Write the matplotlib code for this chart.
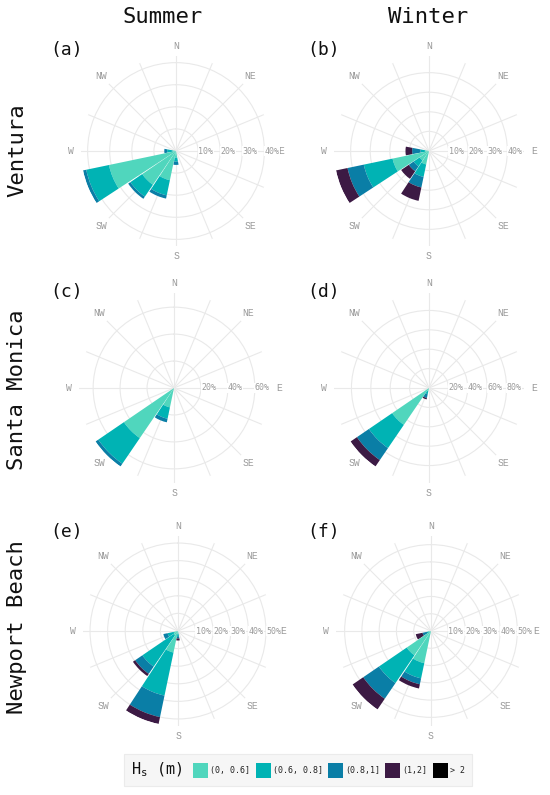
import matplotlib
matplotlib.use('Agg')
import matplotlib.pyplot as plt
import numpy as np
from matplotlib.patches import Rectangle

# ---------------- data ----------------
DIRS = ['N', 'NNE', 'NE', 'ENE', 'E', 'ESE', 'SE', 'SSE',
        'S', 'SSW', 'SW', 'WSW', 'W', 'WNW', 'NW', 'NNW']
COMPASS = ['N', 'NE', 'E', 'SE', 'S', 'SW', 'W', 'NW']
BINS = ['(0, 0.6]', '(0.6, 0.8]', '(0.8,1]', '(1,2]', '> 2']
COLORS = ['#50d6bd', '#00b3b4', '#0a7ea6', '#3c1a44', '#000000']
SEASONS = ['Summer', 'Winter']
SITES = ['Ventura', 'Santa Monica', 'Newport Beach']
TAGS = ['(a)', '(b)', '(c)', '(d)', '(e)', '(f)']

# percent of time per direction, one value per Hs bin
ventura_summer = {'W': [1.5, 2.5, 1.3, 0, 0], 'WSW': [31, 10.5, 1.5, 0, 0],
                  'SW': [18.5, 6.5, 1.2, 0, 0], 'SSW': [13.5, 7, 1.5, 0, 0],
                  'S': [3, 1.8, 1.5, 0, 0]}
ventura_winter = {'W': [2, 2.3, 4.3, 3.4, 0], 'WSW': [19, 15, 8.5, 6, 0],
                  'SW': [5.8, 3.7, 3, 4.7, 0], 'SSW': [7, 6.5, 5.5, 7, 0]}
smonica_summer = {'SW': [45, 23, 2.5, 0, 0], 'SSW': [14.7, 8.6, 2.7, 0, 0]}
smonica_winter = {'SW': [46, 29, 15, 8, 0], 'SSW': [3.5, 3, 4, 1.5, 0]}
newport_summer = {'WSW': [2.5, 3.5, 2.5, 0, 0], 'SW': [3, 21.5, 5, 1.5, 0],
                  'SSW': [12.5, 25, 12.5, 4, 0], 'S': [1.5, 1.5, 1.2, 1.2, 0]}
newport_winter = {'WSW': [1.2, 1.3, 2.5, 4, 0], 'SW': [17, 19.5, 11, 7.5, 0],
                  'SSW': [19, 9, 3.5, 2.5, 0]}

PANELS = [ventura_summer, ventura_winter, smonica_summer,
          smonica_winter, newport_summer, newport_winter]
RTICKS = [[10, 20, 30, 40], [10, 20, 30, 40], [20, 40, 60],
          [20, 40, 60, 80], [10, 20, 30, 40, 50], [10, 20, 30, 40, 50]]

# ---------------- layout (pixels) ----------------
W, H = 550, 795
R = 95
CENTERS = [(176, 151), (429, 151), (174, 388), (429, 388), (178, 631), (431, 631)]
TAG_POS = [(67, 50), (324, 50), (67, 292), (324, 292), (67, 532), (324, 532)]
MONO = 'DejaVu Sans Mono'
GRID = '#e9e9e9'
LABEL_GREY = '#9a9a9a'


def fx(x):
    return x / W


def fy(y):
    return 1 - y / H


fig = plt.figure(figsize=(W / 100, H / 100), dpi=100)
fig.patch.set_facecolor('white')

for i, data in enumerate(PANELS):
    cx, cy = CENTERS[i]
    ax = fig.add_axes([fx(cx - R), fy(cy + R), 2 * R / W, 2 * R / H], projection='polar')
    ax.set_theta_zero_location('N')
    ax.set_theta_direction(-1)
    totals = [sum(v) for v in data.values()]
    rmax = max(totals)
    ax.set_ylim(0, rmax)
    ax.set_xticks(np.deg2rad(np.arange(16) * 22.5))
    ax.set_xticklabels([])
    ax.set_yticks(RTICKS[i])
    ax.set_yticklabels([])
    ax.tick_params(length=0)
    ax.grid(True, color=GRID, lw=0.8)
    ax.spines['polar'].set_visible(False)
    ax.set_axisbelow(True)
    ax.patch.set_alpha(0)

    for d, vals in data.items():
        th = np.deg2rad(DIRS.index(d) * 22.5)
        bottom = 0
        for k, v in enumerate(vals):
            if v > 0:
                ax.bar(th, v, width=np.deg2rad(21.4), bottom=bottom,
                       color=COLORS[k], edgecolor='none', linewidth=0, zorder=3)
            bottom += v

    for j, name in enumerate(COMPASS):
        ax.text(np.deg2rad(j * 45), rmax * 1.11, name, ha='center', va='center',
                fontsize=7, color=LABEL_GREY, family='Liberation Mono', clip_on=False)
    for t in RTICKS[i]:
        ax.text(np.pi / 2, t, f'{t}%', ha='left', va='center', fontsize=6,
                color=LABEL_GREY, family=MONO, zorder=4,
                bbox=dict(facecolor='white', edgecolor='none', pad=0.3))

    tx, ty = TAG_POS[i]
    fig.text(fx(tx), fy(ty), TAGS[i], ha='center', va='center', fontsize=13,
             family=MONO, color='#111111')

# column titles and row labels
for x, s in zip([163, 428], SEASONS):
    fig.text(fx(x), fy(17), s, ha='center', va='center', fontsize=16, family=MONO,
             color='#111111')
for y, s in zip([150, 390, 627], SITES):
    fig.text(fx(17), fy(y), s, ha='center', va='center', fontsize=16, family=MONO,
             rotation=90, color='#111111')

# legend
fig.add_artist(Rectangle((fx(124), fy(786)), 348 / W, 32 / H, transform=fig.transFigure,
                         facecolor='#f6f6f6', edgecolor='#ebebeb', lw=0.8))
fig.text(fx(131), fy(770), r'H$_{\mathregular{s}}$ (m)', ha='left', va='center',
         fontsize=11, family=MONO, color='#111111')
SQ_X = [193, 256, 328, 385, 433]
for k, lab in enumerate(BINS):
    x0 = SQ_X[k]
    fig.add_artist(Rectangle((fx(x0), fy(778)), 15 / W, 15 / H, transform=fig.transFigure,
                             facecolor=COLORS[k], edgecolor='none'))
    fig.text(fx(x0 + 17), fy(770.5), lab, ha='left', va='center', fontsize=6,
             family=MONO, color='#222222')

fig.savefig('out.png', dpi=100)
